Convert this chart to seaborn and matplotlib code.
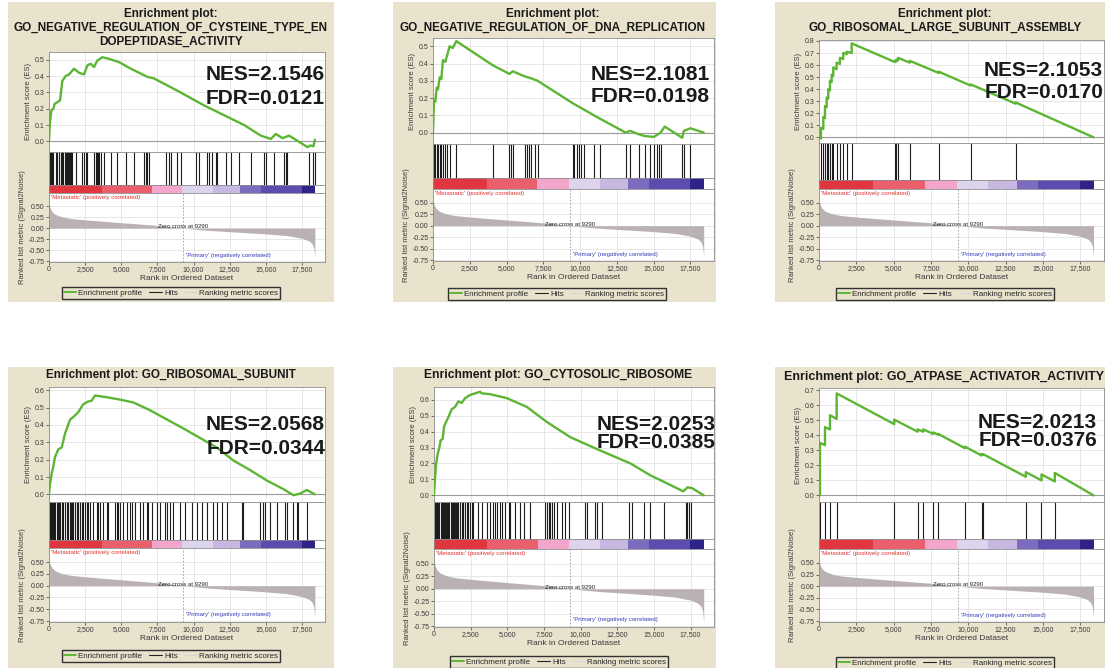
import numpy as np
import pandas as pd
import matplotlib
matplotlib.use("Agg")
import matplotlib.pyplot as plt
import seaborn as sns
from matplotlib.patches import Rectangle
from matplotlib.lines import Line2D
from matplotlib.colors import ListedColormap

# ---------------- data ----------------
titles = [
    "Enrichment plot:\nGO_NEGATIVE_REGULATION_OF_CYSTEINE_TYPE_EN\nDOPEPTIDASE_ACTIVITY",
    "Enrichment plot:\nGO_NEGATIVE_REGULATION_OF_DNA_REPLICATION",
    "Enrichment plot:\nGO_RIBOSOMAL_LARGE_SUBUNIT_ASSEMBLY",
    "Enrichment plot: GO_RIBOSOMAL_SUBUNIT",
    "Enrichment plot: GO_CYTOSOLIC_RIBOSOME",
    "Enrichment plot: GO_ATPASE_ACTIVATOR_ACTIVITY",
]
nes_values = ["2.1546", "2.1081", "2.1053", "2.0568", "2.0253", "2.0213"]
fdr_values = ["0.0121", "0.0198", "0.0170", "0.0344", "0.0385", "0.0376"]

es1_rank = [0, 69, 162, 300, 392, 577, 762, 923, 1154, 1385, 1731, 2078, 2424, 2655, 2886, 3116, 3347,
            3693, 4155, 4848, 5656, 6810, 7272, 8887, 10734, 12119, 13504, 14658, 15351, 15697, 16159,
            16620, 17890, 18100, 18300, 18400]
es1_score = [0.0, 0.12, 0.19, 0.20, 0.23, 0.24, 0.25, 0.37, 0.40, 0.41, 0.445, 0.42, 0.41, 0.465, 0.475,
             0.455, 0.495, 0.515, 0.505, 0.485, 0.445, 0.395, 0.385, 0.31, 0.22, 0.16, 0.10, 0.035, 0.015,
             0.045, 0.02, 0.035, -0.035, -0.025, -0.03, 0.01]
hits1 = [69, 162, 231, 300, 462, 577, 692, 808, 854, 923, 992, 1085, 1154, 1223, 1316, 1385, 1454, 1500,
         1616, 1846, 2308, 2424, 2539, 2654, 3116, 3231, 3300, 3393, 3462, 3577, 3808, 4270, 4731, 5308,
         5885, 6578, 6693, 6809, 6924, 8078, 8309, 8424, 8886, 9117, 10155, 10386, 10963, 11078, 11309,
         11540, 11655, 12232, 12579, 13156, 13964, 14887, 15002, 15579, 16271, 16386, 16502, 18002,
         18302, 18394]

es2_rank = [0, 68, 158, 248, 339, 452, 565, 677, 836, 971, 1129, 1350, 1581, 4065, 5194, 5420, 6255,
            6662, 7114, 9500, 11359, 13098, 13392, 14001, 14385, 15018, 15470, 15750, 16938, 17050,
            17502, 18400]
es2_score = [0.0, 0.19, 0.18, 0.26, 0.25, 0.32, 0.31, 0.42, 0.41, 0.45, 0.50, 0.49, 0.53, 0.39, 0.34,
             0.355, 0.325, 0.315, 0.30, 0.17, 0.08, 0.0, 0.01, -0.01, -0.02, -0.025, 0.0, 0.035, -0.03,
             0.01, 0.025, 0.0]
hits2 = [68, 158, 248, 339, 452, 565, 677, 836, 971, 1129, 1581, 4065, 5194, 5307, 5420, 6255, 6368,
         6504, 6662, 6933, 7114, 9485, 9598, 9756, 9937, 10050, 10230, 10953, 11359, 13098, 13392, 14001,
         14385, 14747, 15018, 15244, 15357, 15470, 16938, 17050, 17502]

es3_rank = [0, 130, 134, 290, 290, 401, 401, 513, 513, 620, 620, 735, 735, 850, 850, 955, 955, 1180,
            1180, 1404, 1404, 1625, 1625, 1850, 1850, 2190, 2190, 5080, 5080, 5190, 5190, 5300, 5300,
            6080, 6080, 8020, 8020, 10160, 10160, 13170, 13170, 18400]
es3_score = [0.0, -0.01, 0.08, 0.07, 0.17, 0.16, 0.26, 0.25, 0.33, 0.32, 0.40, 0.39, 0.47, 0.46, 0.52,
             0.51, 0.58, 0.565, 0.62, 0.61, 0.66, 0.65, 0.70, 0.69, 0.71, 0.70, 0.78, 0.625, 0.635, 0.63,
             0.645, 0.64, 0.66, 0.62, 0.635, 0.535, 0.545, 0.43, 0.44, 0.28, 0.29, 0.0]
hits3 = [134, 290, 401, 513, 620, 735, 850, 955, 1180, 1404, 1625, 1850, 2190, 5080, 5190, 5300, 6080,
         8020, 10160, 13170]

es4_rank = [0, 69, 185, 300, 415, 646, 877, 1108, 1454, 1800, 2031, 2377, 2700, 2950, 3185, 3993, 4685,
            5839, 6993, 9301, 11609, 12763, 13917, 15071, 16225, 16917, 17379, 17840, 18187, 18400]
es4_score = [0.0, 0.06, 0.12, 0.16, 0.215, 0.26, 0.27, 0.35, 0.43, 0.455, 0.475, 0.52, 0.535, 0.54,
             0.57, 0.56, 0.55, 0.53, 0.485, 0.38, 0.27, 0.195, 0.14, 0.08, 0.03, -0.005, 0.005, 0.025,
             0.01, 0.0]
hits4 = [69, 138, 208, 300, 369, 438, 531, 600, 669, 762, 877, 992, 1108, 1223, 1339, 1454, 1523, 1592,
         1685, 1800, 1916, 2031, 2146, 2262, 2377, 2493, 2608, 2723, 2839, 3070, 3300, 3416, 3531, 3762,
         3993, 4108, 4570, 4685, 4801, 4916, 5147, 5378, 5608, 5724, 5955, 6301, 6532, 6762, 6878, 7108,
         7455, 7686, 8032, 8147, 8378, 8609, 9070, 9417, 9878, 10224, 10571, 10917, 11378, 11609, 11955,
         12301, 13340, 13455, 14609, 14840, 14955, 15302, 15763, 16340, 16456, 16917, 17148, 17263,
         17840]

es5_rank = [0, 68, 137, 228, 365, 456, 593, 684, 820, 980, 1208, 1436, 1664, 1892, 2120, 2461, 2803,
            3145, 3259, 3829, 4968, 6336, 7703, 9298, 11121, 13400, 14768, 15680, 17000, 17300, 17600,
            18400]
es5_score = [0.0, 0.105, 0.19, 0.25, 0.30, 0.345, 0.355, 0.43, 0.46, 0.49, 0.54, 0.555, 0.59, 0.58,
             0.61, 0.63, 0.64, 0.65, 0.64, 0.635, 0.61, 0.555, 0.46, 0.365, 0.29, 0.20, 0.125, 0.085,
             0.025, 0.05, 0.045, 0.0]
hits5 = [68, 137, 228, 296, 365, 456, 524, 593, 684, 752, 820, 912, 980, 1048, 1140, 1208, 1276, 1367,
         1436, 1504, 1595, 1664, 1778, 1892, 1960, 2006, 2120, 2233, 2347, 2461, 2575, 2689, 3031, 3259,
         3601, 3829, 4057, 4171, 4285, 4512, 4626, 4854, 5082, 5196, 5538, 5880, 6108, 6564, 7589, 7703,
         7817, 7931, 8045, 8159, 8387, 8729, 8956, 9184, 10324, 10438, 11008, 11122, 11464, 13287, 13515,
         14312, 14768, 15680, 17161, 17275, 17389, 17503]

es6_rank = [0, 67, 67, 402, 402, 737, 737, 1183, 1183, 5045, 5045, 6607, 6607, 6987, 6987, 7656, 7656,
            7991, 7991, 9777, 9777, 10893, 10893, 11004, 11004, 13862, 13862, 14911, 14911, 15804,
            15804, 18400]
es6_score = [0.0, 0.0, 0.35, 0.335, 0.455, 0.44, 0.535, 0.51, 0.68, 0.475, 0.505, 0.425, 0.44, 0.425,
             0.44, 0.41, 0.42, 0.405, 0.41, 0.315, 0.325, 0.266, 0.276, 0.27, 0.275, 0.124, 0.155, 0.10,
             0.14, 0.093, 0.15, 0.0]
hits6 = [67, 402, 737, 1183, 5045, 6607, 6987, 7656, 7991, 9777, 10893, 11004, 13862, 14911, 15804]

# ranked list metric (same ranked list for every gene set)
metric_rank = [0, 30, 100, 200, 400, 700, 1000, 1500, 2500, 4000, 6000, 8000, 9290, 11000, 13000,
               15000, 16500, 17500, 18000, 18200, 18330, 18400]
metric_value = [0.62, 0.52, 0.44, 0.38, 0.32, 0.28, 0.25, 0.22, 0.19, 0.15, 0.10, 0.05, 0.0, -0.05,
                -0.09, -0.13, -0.17, -0.23, -0.29, -0.35, -0.45, -0.68]
zero_cross = 9290
bar_edges = [0, 3640, 7100, 9220, 11340, 13240, 14690, 17480, 18400]
x_ticks = [0, 2500, 5000, 7500, 10000, 12500, 15000, 17500]

es_ranks = [es1_rank, es2_rank, es3_rank, es4_rank, es5_rank, es6_rank]
es_scores = [es1_score, es2_score, es3_score, es4_score, es5_score, es6_score]
hit_sets = [hits1, hits2, hits3, hits4, hits5, hits6]

# ---------------- style / layout ----------------
sns.set_theme(style="white")
plt.rcParams['font.family'] = ['Liberation Sans', 'DejaVu Sans']

BEIGE = '#e9e2cd'
GREEN = '#5db534'
GRID = '#e3e3e3'
SPINE = '#8c8c8c'
FILL = '#bab2b2'
TICKC = '#3a3a3a'
BAR_COLORS = ['#e0363f', '#e9606c', '#f2a6cc', '#dcd4ec', '#c6b8e0', '#7c6cc0', '#5c4cae', '#2e2488']
XMAX = 19100

W, H = 1105, 668
fig = plt.figure(figsize=(W / 100, H / 100), dpi=100)
fig.patch.set_facecolor('white')

layout = [
    dict(beige=(8, 2, 334, 302), x0=49, x1=325, es=(52, 152), bar=(185, 193), met=262,
         title=(171, 27.5), tfs=8.5, nes=(325, 75), fdr=(325, 98), leg=(171, 293), ylim=(-0.065, 0.547)),
    dict(beige=(393, 2, 716, 302), x0=433, x1=714, es=(38, 144), bar=(178, 189), met=261,
         title=(553, 20.5), tfs=8.5, nes=(710, 75), fdr=(710, 97), leg=(557, 294), ylim=(-0.066, 0.548)),
    dict(beige=(775, 2, 1105, 302), x0=819, x1=1104, es=(40, 143), bar=(180, 189), met=261,
         title=(945, 20.5), tfs=8.5, nes=(1103, 70), fdr=(1103, 93), leg=(945, 294), ylim=(-0.047, 0.808)),
    dict(beige=(8, 367, 334, 668), x0=49, x1=325, es=(387, 502), bar=(540, 548), met=622,
         title=(171, 375), tfs=8.4, nes=(325, 425), fdr=(325, 448), leg=(171, 656), ylim=(-0.044, 0.619)),
    dict(beige=(393, 367, 716, 668), x0=434, x1=714, es=(387, 502), bar=(539, 549), met=627,
         title=(558, 375), tfs=8.7, nes=(716, 425), fdr=(716, 443), leg=(559, 662), ylim=(-0.042, 0.68)),
    dict(beige=(775, 367, 1105, 668), x0=819, x1=1104, es=(388, 502), bar=(539, 549), met=622,
         title=(944, 377), tfs=9.0, nes=(1097, 423), fdr=(1097, 441), leg=(945, 663), ylim=(-0.044, 0.716)),
]


def ax_px(l, t, r, b):
    return fig.add_axes([l / W, 1 - b / H, (r - l) / W, (b - t) / H])


def style_spines(ax):
    for s in ax.spines.values():
        s.set_color(SPINE)
        s.set_linewidth(0.6)
        s.set_visible(True)


bar_cmap = ListedColormap(BAR_COLORS)

for i, g in enumerate(layout):
    bl, bt, br, bb = g['beige']
    fig.add_artist(Rectangle((bl / W, 1 - bb / H), (br - bl) / W, (bb - bt) / H,
                             transform=fig.transFigure, facecolor=BEIGE, edgecolor='none', zorder=-1))

    # --- enrichment score ---
    ax = ax_px(g['x0'], g['es'][0], g['x1'], g['es'][1])
    ax.set_facecolor('white')
    df = pd.DataFrame({'rank': es_ranks[i], 'es': es_scores[i]})
    sns.lineplot(data=df, x='rank', y='es', ax=ax, color=GREEN, linewidth=1.7,
                 estimator=None, sort=False, legend=False, zorder=3)
    ax.axhline(0, color='#9a9a9a', lw=0.8, zorder=2)
    ax.set_xlim(0, XMAX)
    ax.set_ylim(*g['ylim'])
    ax.set_xticks(x_ticks)
    ax.set_xticklabels([])
    yt = np.round(np.arange(0, g['ylim'][1] + 1e-9, 0.1), 1)
    ax.set_yticks(yt)
    ax.set_yticklabels([f"{v:.1f}" for v in yt])
    ax.grid(True, color=GRID, lw=0.6)
    ax.tick_params(axis='y', left=True, length=2, width=0.5, pad=1, labelsize=5, colors=TICKC)
    ax.tick_params(axis='x', bottom=False, length=0)
    ax.set_xlabel('')
    ax.set_ylabel('Enrichment score (ES)', fontsize=5.5, color=TICKC, labelpad=2)
    style_spines(ax)

    # --- hits ---
    axh = ax_px(g['x0'], g['es'][1], g['x1'], g['bar'][0])
    axh.set_facecolor('white')
    axh.vlines(hit_sets[i], 0, 1, color='#1c1c1c', lw=0.8)
    axh.set_xlim(0, XMAX)
    axh.set_ylim(0, 1)
    axh.set_xticks([])
    axh.set_yticks([])
    style_spines(axh)

    # --- colour bar ---
    axb = ax_px(g['x0'], g['bar'][0], g['x1'], g['bar'][1])
    axb.set_facecolor('white')
    axb.pcolormesh(bar_edges, [0, 1], np.arange(len(BAR_COLORS)).reshape(1, -1),
                   cmap=bar_cmap, vmin=-0.5, vmax=len(BAR_COLORS) - 0.5, shading='flat')
    axb.set_xlim(0, XMAX)
    axb.set_ylim(0, 1)
    axb.set_xticks([])
    axb.set_yticks([])
    style_spines(axb)

    # --- ranked list metric ---
    axm = ax_px(g['x0'], g['bar'][1], g['x1'], g['met'])
    axm.set_facecolor('white')
    axm.fill_between(metric_rank, metric_value, 0, color=FILL, lw=0, zorder=2)
    axm.set_xlim(0, XMAX)
    axm.set_ylim(-0.77, 0.80)
    axm.set_xticks(x_ticks)
    axm.set_xticklabels([f"{v:,}" for v in x_ticks])
    mt = [0.5, 0.25, 0.0, -0.25, -0.5, -0.75]
    axm.set_yticks(mt)
    axm.set_yticklabels([f"{v:.2f}" for v in mt])
    axm.grid(True, color=GRID, lw=0.6)
    axm.tick_params(axis='both', left=True, bottom=True, length=2, width=0.5, pad=1,
                    labelsize=5, colors=TICKC)
    axm.axvline(zero_cross, color='#999999', lw=0.6, ls=(0, (2, 2)), zorder=3)
    axm.text(0.008, 0.975, "'Metastatic' (positively correlated)", transform=axm.transAxes,
             ha='left', va='top', fontsize=4.3, color='#e0302a')
    axm.text(zero_cross, 0.035, f"Zero cross at {zero_cross}", ha='center', va='center',
             fontsize=4.3, color='#222222', zorder=4)
    axm.text(zero_cross + 200, -0.62, "'Primary' (negatively correlated)", ha='left', va='center',
             fontsize=4.3, color='#3838b8')
    axm.set_xlabel('Rank in Ordered Dataset', fontsize=6, color=TICKC, labelpad=1.5)
    axm.set_ylabel('Ranked list metric (Signal2Noise)', fontsize=5.5, color=TICKC, labelpad=2)
    style_spines(axm)

    # --- title and statistics ---
    tx, ty = g['title']
    fig.text(tx / W, 1 - ty / H, titles[i], ha='center', va='center', fontsize=g['tfs'],
             fontweight='bold', color='#1a1a1a', linespacing=1.2)
    nx, ny = g['nes']
    fig.text(nx / W, 1 - ny / H, f"NES={nes_values[i]}", ha='right', va='center', fontsize=15,
             fontweight='bold', color='#1a1a1a', zorder=10)
    fx, fy = g['fdr']
    fig.text(fx / W, 1 - fy / H, f"FDR={fdr_values[i]}", ha='right', va='center', fontsize=15,
             fontweight='bold', color='#1a1a1a', zorder=10)

    # --- legend ---
    handles = [Line2D([], [], color=GREEN, lw=1.4),
               Line2D([], [], color='#222222', lw=0.8),
               Line2D([], [], color='#d4d4d4', lw=0.8)]
    labels = ['Enrichment profile', 'Hits', 'Ranking metric scores']
    lx, ly = g['leg']
    fig.legend(handles, labels, loc='center', bbox_to_anchor=(lx / W, 1 - ly / H), ncol=3,
               fontsize=5.8, frameon=True, fancybox=False, edgecolor='#333333', facecolor=BEIGE,
               framealpha=1, handlelength=1.5, handletextpad=0.3, columnspacing=0.9,
               borderpad=0.25, borderaxespad=0)

fig.savefig('out.png', dpi=100)
